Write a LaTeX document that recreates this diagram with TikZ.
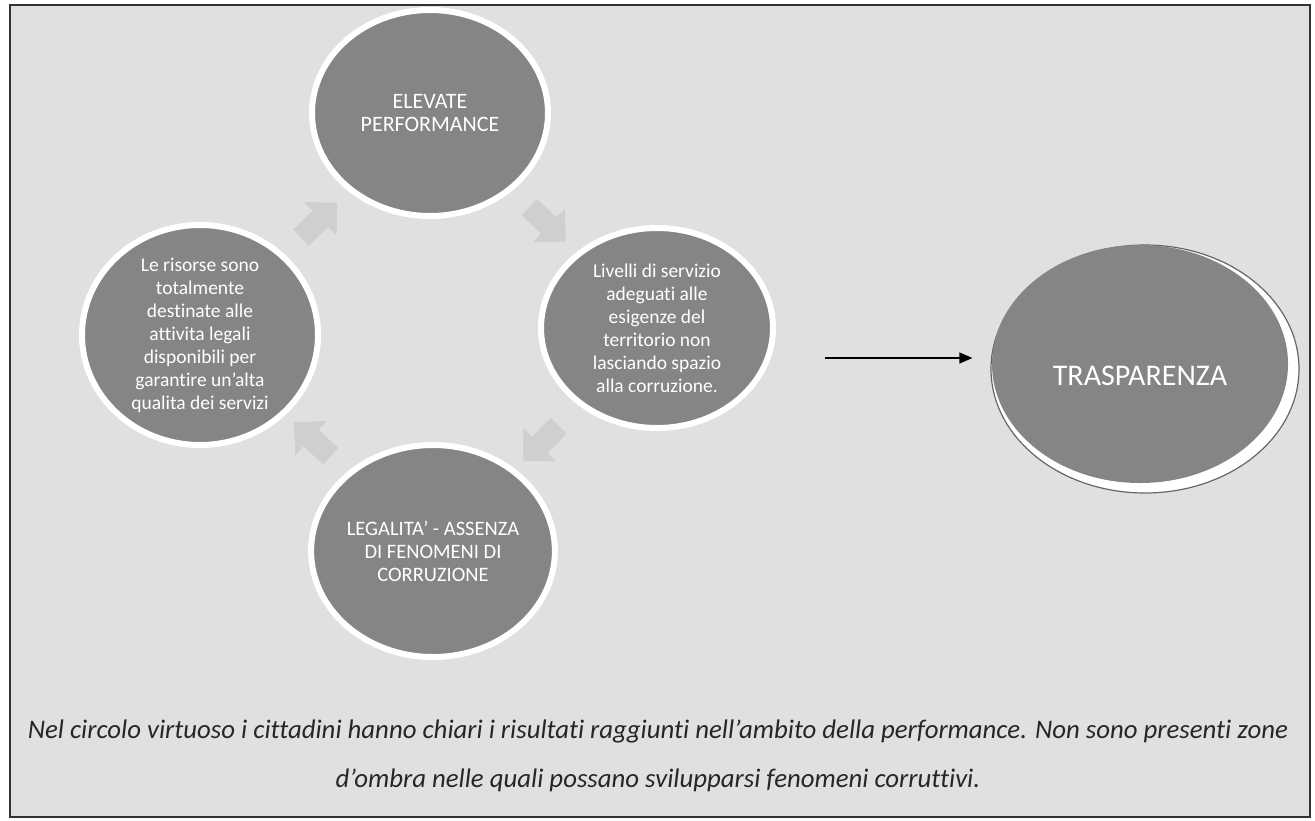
\documentclass[tikz,border=0pt]{standalone}
\usepackage{fontspec}
\setmainfont{Carlito}[Ligatures={TeX,NoCommon}]
\usetikzlibrary{shapes.geometric,shapes.arrows,calc,arrows.meta}
\definecolor{bgc}{gray}{0.88}
\definecolor{cgray}{gray}{0.52}
\definecolor{agray}{gray}{0.81}
\begin{document}
\begin{tikzpicture}[x=1pt,y=-1pt,
  bubble/.style={ellipse, fill=cgray, draw=white, line width=6pt, inner sep=0pt,
    text=white, align=center, font=\fontsize{19.5}{23}\selectfont},
  cyc/.style={single arrow, fill=agray, draw=none, minimum height=50pt,
    minimum width=46pt, inner xsep=0pt, inner ysep=11pt, single arrow head extend=12pt},
  caption/.style={font=\itshape\fontsize{26.8}{30}\selectfont, text=black!85},
  mainarrow/.style={line width=1.3pt, -{Triangle[length=13pt,width=11pt]}, shorten >=18pt}
]
\useasboundingbox (0,0) rectangle (1315,820);
\fill[white] (0,0) rectangle (1315,820);
\draw[fill=bgc, line width=1.2pt, draw=black!80] (10,5) rectangle (1310,817);

% cycle circles
\node[bubble, minimum width=236pt, minimum height=206pt, font=\fontsize{22}{23}\selectfont] (T) at (430,113) {ELEVATE\\PERFORMANCE};
\node[bubble, minimum width=236pt, minimum height=220pt] (L) at (200,335) {Le risorse sono\\totalmente\\destinate alle\\attivita legali\\disponibili per\\garantire un'alta\\qualita dei servizi};
\node[bubble, minimum width=232pt, minimum height=200pt] (R) at (657,328) {Livelli di servizio\\adeguati alle\\esigenze del\\territorio non\\lasciando spazio\\alla corruzione.};
\node[bubble, minimum width=240pt, minimum height=212pt, font=\fontsize{20.5}{23}\selectfont] (B) at (433,551) {LEGALITA' - ASSENZA\\DI FENOMENI DI\\CORRUZIONE};

% cycle arrows
\path let \p1=($(T)-(L)$), \n1={atan2(\y1,\x1)} in node[cyc, rotate=\n1] (a1) at ($(L)!0.5!(T)$) {};
\path let \p1=($(R)-(T)$), \n1={atan2(\y1,\x1)} in node[cyc, rotate=\n1] (a2) at ($(T)!0.5!(R)$) {};
\path let \p1=($(B)-(R)$), \n1={atan2(\y1,\x1)} in node[cyc, rotate=\n1] (a3) at ($(R)!0.5!(B)$) {};
\path let \p1=($(L)-(B)$), \n1={atan2(\y1,\x1)} in node[cyc, rotate=\n1] (a4) at ($(B)!0.5!(L)$) {};

% TRASPARENZA
\node[ellipse, fill=white, draw=black!60, line width=1.2pt, minimum width=308pt, minimum height=248pt] (TRo) at (1145,369) {};
\node[ellipse, fill=cgray, draw=none, minimum width=296pt, minimum height=238pt] (TR) at (1140,364) {};
\node[text=white, font=\fontsize{30}{32}\selectfont] (TRt) at ([yshift=-12pt]TR.center) {TRASPARENZA};

% main arrow
\coordinate (s) at (825,358);
\draw[mainarrow] (s) -- (s -| TRo.west);

% caption
\node[caption] (c1) at (658,731) {Nel circolo virtuoso i cittadini hanno chiari i risultati raggiunti nell’ambito della performance. Non sono presenti zone};
\node[caption] (c2) at (658,780) {d’ombra nelle quali possano svilupparsi fenomeni corruttivi.};
\end{tikzpicture}
\end{document}
